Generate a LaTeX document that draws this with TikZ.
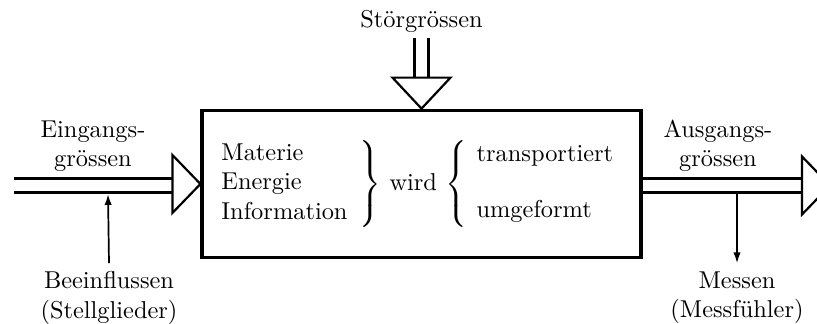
\documentclass[tikz,border=0pt]{standalone}
\usetikzlibrary{arrows.meta}
\begin{document}
\begin{tikzpicture}[x=0.41pt,y=-0.41pt,
	fluss/.style={line width=1.25pt,double,double distance=4.4pt},
	spitze/.style={line width=0.9pt,fill=white,line join=miter},
	duenn/.style={line width=0.7pt,-{Latex[length=4.5pt,width=3pt]}}]
	\useasboundingbox (0,0) rectangle (817,324);
	
	% System
	\node[draw,line width=1.3pt,minimum width=180pt,minimum height=60.5pt] (box) at (421.5,184) {};
	\node[anchor=west,inner sep=0pt] (inhalt) at (218,184)
		{$\left.\begin{tabular}{@{}l@{\hspace{5pt}}}Materie\\Energie\\Information\end{tabular}\right\}$\ wird\ $\left\{\begin{tabular}{@{\hspace{4pt}}l@{}}transportiert\\[11pt]umgeformt\end{tabular}\right.$};
	
	% Eingang
	\coordinate (ein) at (14,185.5);
	\draw[fluss] (ein) -- (172,185.5);
	\draw[spitze] (box.west) -- ++(-28,-29) -- ++(0,58) -- cycle;
	\node[align=center] (eintext) at (93,146) {Eingangs-\\gr\"ossen};
	
	% Ausgang
	\coordinate (aus) at (802,185.5);
	\draw[fluss] (box.east |- aus) -- (aus);
	\draw[spitze] (aus) ++(0,-29) -- ++(28,29) -- ++(-28,29) -- cycle;
	\node[align=center] (austext) at (718,146) {Ausgangs-\\gr\"ossen};
	
	% Stoerung
	\coordinate (stoer) at (421.5,38);
	\draw[fluss] (stoer) -- (421.5,78);
	\draw[spitze] (box.north) -- ++(-29,-31) -- ++(58,0) -- cycle;
	\node (stoertext) at (421.5,21) {St\"orgr\"ossen};
	
	% Stellglieder und Messfuehler
	\node[align=center] (stell) at (109,298) {Beeinflussen\\(Stellglieder)};
	\coordinate (stellp) at (108,194);
	\draw[duenn] (stell.north) -- (stellp);
	\node[align=center] (mess) at (737,298) {Messen\\(Messf\"uhler)};
	\coordinate (messp) at (mess.north |- aus);
	\draw[duenn] ([yshift=-2.5pt]messp) -- (mess.north);
\end{tikzpicture}
\end{document}
